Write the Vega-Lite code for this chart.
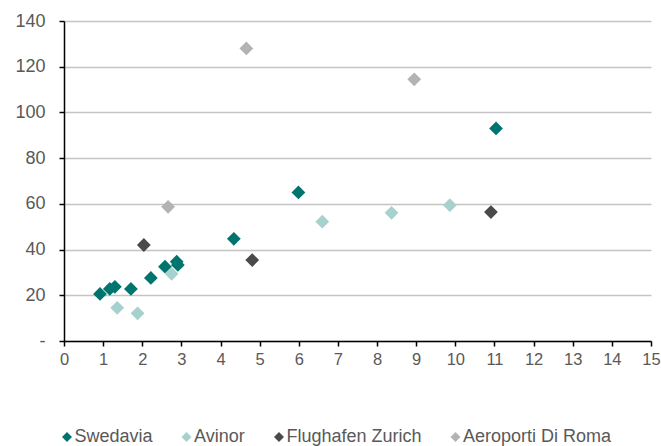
{
  "$schema": "https://vega.github.io/schema/vega-lite/v6.json",
  "autosize": {"type": "none"},
  "width": 587,
  "height": 320,
  "padding": {"left": 64, "top": 21, "right": 10, "bottom": 105},
  "background": "white",
  "data": {
    "values": [
      {"series": "Swedavia", "x": 0.92, "y": 20.6},
      {"series": "Swedavia", "x": 1.17, "y": 22.8},
      {"series": "Swedavia", "x": 1.30, "y": 23.7},
      {"series": "Swedavia", "x": 1.71, "y": 22.8},
      {"series": "Swedavia", "x": 2.22, "y": 27.6},
      {"series": "Swedavia", "x": 2.58, "y": 32.5},
      {"series": "Swedavia", "x": 2.88, "y": 34.7},
      {"series": "Swedavia", "x": 2.91, "y": 33.3},
      {"series": "Swedavia", "x": 4.34, "y": 44.7},
      {"series": "Swedavia", "x": 5.99, "y": 65.0},
      {"series": "Swedavia", "x": 11.04, "y": 93.0},
      {"series": "Avinor", "x": 1.36, "y": 14.5},
      {"series": "Avinor", "x": 1.88, "y": 12.1},
      {"series": "Avinor", "x": 2.75, "y": 29.4},
      {"series": "Avinor", "x": 6.60, "y": 52.2},
      {"series": "Avinor", "x": 8.37, "y": 56.1},
      {"series": "Avinor", "x": 9.86, "y": 59.4},
      {"series": "Flughafen Zurich", "x": 2.04, "y": 42.0},
      {"series": "Flughafen Zurich", "x": 4.81, "y": 35.4},
      {"series": "Flughafen Zurich", "x": 10.91, "y": 56.4},
      {"series": "Aeroporti Di Roma", "x": 2.66, "y": 58.7},
      {"series": "Aeroporti Di Roma", "x": 4.66, "y": 128.0},
      {"series": "Aeroporti Di Roma", "x": 8.95, "y": 114.5}
    ]
  },
  "mark": {"type": "point", "shape": "diamond", "filled": true, "opacity": 1, "size": 190},
  "encoding": {
    "x": {
      "field": "x", "type": "quantitative",
      "scale": {"domain": [0, 15], "nice": false, "zero": true},
      "axis": {
        "title": null, "grid": false, "values": [0,1,2,3,4,5,6,7,8,9,10,11,12,13,14,15],
        "domainColor": "#000000", "domainWidth": 1.5, "tickColor": "#000000", "tickWidth": 1.5, "tickSize": 5,
        "labelFont": "Liberation Sans", "labelFontSize": 16.5, "labelColor": "#595959", "labelPadding": 5,
        "labelFlush": false, "labelOverlap": false
      }
    },
    "y": {
      "field": "y", "type": "quantitative",
      "scale": {"domain": [0, 140], "nice": false},
      "axis": {
        "title": null, "grid": true, "gridColor": "#c4c4c4", "gridWidth": 1.5,
        "values": [0,20,40,60,80,100,120,140],
        "labelExpr": "datum.value == 0 ? '-' : datum.label",
        "domainColor": "#000000", "domainWidth": 1.5, "tickColor": "#000000", "tickWidth": 1.5, "tickSize": 5,
        "labelFont": "Liberation Sans", "labelFontSize": 18, "labelColor": "#595959", "labelPadding": 14,
        "labelFlush": false, "labelOverlap": false
      }
    },
    "color": {
      "field": "series", "type": "nominal",
      "scale": {
        "domain": ["Swedavia", "Avinor", "Flughafen Zurich", "Aeroporti Di Roma"],
        "range": ["#007570", "#a7d1ce", "#4a4a4a", "#b3b3b3"]
      },
      "legend": {
        "title": null, "orient": "none", "direction": "horizontal", "columns": 4,
        "legendX": -6, "legendY": 407, "padding": 0,
        "symbolType": "diamond", "symbolSize": 100, "symbolStrokeWidth": 0,
        "labelFont": "Liberation Sans", "labelFontSize": 18, "labelColor": "#595959",
        "labelOffset": -1.5, "columnPadding": 24.5
      }
    }
  },
  "config": {"view": {"stroke": null}}
}
